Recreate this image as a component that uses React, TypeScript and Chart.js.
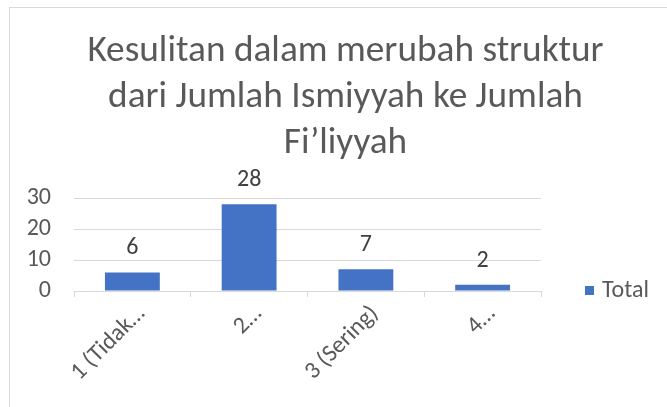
import React, { useEffect, useRef } from "react";
import { Chart, registerables } from "chart.js";

Chart.register(...registerables);

const titleLines = [
  "Kesulitan dalam merubah struktur",
  "dari Jumlah Ismiyyah ke Jumlah",
  "Fi’liyyah",
];
const categories = ["1 (Tidak…", "2…", "3 (Sering)", "4…"];
const totals = [6, 28, 7, 2];
const seriesName = "Total";
const yTicks = [0, 10, 20, 30];

const FONT = "Carlito, Lato, 'Open Sans', sans-serif";
const TEXT = "#595959";
const GRID = "#d9d9d9";
const BAR = "#4472C4";

export default function App() {
  const ref = useRef<HTMLCanvasElement>(null);

  useEffect(() => {
    if (!ref.current) return;

    const dataLabels = {
      id: "dataLabels",
      afterDatasetsDraw(chart: any) {
        const ctx = chart.ctx;
        const ds = chart.data.datasets[0];
        const meta = chart.getDatasetMeta(0);
        ctx.save();
        ctx.fillStyle = "#404040";
        ctx.font = `24px ${FONT}`;
        ctx.textAlign = "center";
        ctx.textBaseline = "middle";
        meta.data.forEach((bar: any, i: number) => {
          ctx.fillText(String(ds.data[i]), bar.x, bar.y - 24);
        });
        ctx.restore();
      },
    };

    const sideLegend = {
      id: "sideLegend",
      afterDraw(chart: any) {
        const ctx = chart.ctx;
        const area = chart.chartArea;
        const ds = chart.data.datasets[0];
        const x = area.right + 44;
        const y = area.bottom;
        ctx.save();
        ctx.fillStyle = ds.backgroundColor;
        ctx.fillRect(x, y - 5, 9, 9);
        ctx.fillStyle = TEXT;
        ctx.font = `24px ${FONT}`;
        ctx.textAlign = "left";
        ctx.textBaseline = "middle";
        ctx.fillText(ds.label, x + 17, y);
        ctx.restore();
      },
    };

    const chart = new Chart(ref.current, {
      type: "bar",
      data: {
        labels: categories,
        datasets: [
          {
            label: seriesName,
            data: totals,
            backgroundColor: BAR,
            borderWidth: 0,
            categoryPercentage: 1,
            barPercentage: 0.47,
            yAxisID: "y",
          },
        ],
      },
      options: {
        responsive: false,
        animation: false,
        devicePixelRatio: 1,
        layout: { padding: { left: 24, right: 0, top: 0, bottom: 0 } },
        plugins: {
          legend: { display: false },
          tooltip: { enabled: false },
          title: {
            display: true,
            text: titleLines,
            color: TEXT,
            font: { family: FONT, size: 37.3, weight: "normal", lineHeight: "46px" },
            padding: { top: 29, bottom: 31 },
          },
        },
        scales: {
          x: {
            grid: {
              display: true,
              drawOnChartArea: false,
              drawTicks: true,
              tickLength: 6,
              color: GRID,
              offset: true,
            },
            border: { display: true, color: GRID },
            ticks: {
              color: TEXT,
              font: { family: FONT, size: 24 },
              maxRotation: 45,
              minRotation: 45,
              autoSkip: false,
              padding: 3,
              labelOffset: 9,
            },
            afterFit: (s: any) => {
              s.height = 116;
            },
          },
          y: {
            position: "left",
            min: yTicks[0],
            max: yTicks[yTicks.length - 1],
            afterBuildTicks: (s: any) => {
              s.ticks = yTicks.map((v) => ({ value: v }));
            },
            ticks: {
              autoSkip: false,
              color: TEXT,
              font: { family: FONT, size: 24 },
              padding: 23,
            },
            grid: { color: GRID, drawTicks: false },
            border: { display: false },
            afterFit: (s: any) => {
              s.width = 50;
            },
          },
          legendSpace: {
            type: "linear",
            position: "right",
            display: true,
            grid: { display: false, drawTicks: false },
            border: { display: false },
            ticks: { display: false },
            afterFit: (s: any) => {
              s.width = 126;
            },
          },
        },
      },
      plugins: [dataLabels, sideLegend],
    });

    return () => chart.destroy();
  }, []);

  return (
    <div
      style={{
        position: "fixed",
        left: 0,
        top: 0,
        width: 667,
        height: 407,
        background: "#fff",
        overflow: "hidden",
      }}
    >
      <div
        style={{
          position: "absolute",
          left: 9,
          top: 7,
          width: 720,
          height: 460,
          border: `1px solid ${GRID}`,
        }}
      />
      <canvas
        ref={ref}
        width={667}
        height={407}
        style={{ position: "absolute", left: 0, top: 0, width: 667, height: 407 }}
      />
    </div>
  );
}
